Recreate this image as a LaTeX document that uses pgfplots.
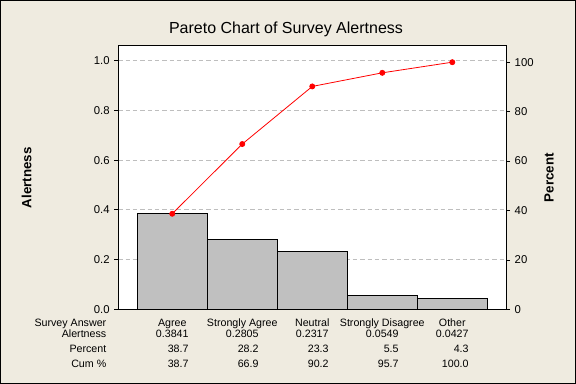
\documentclass[border=0pt]{standalone}
\usepackage{pgfplots}
\pgfplotsset{compat=1.18}
\usepackage{fontspec}
\setmainfont{Liberation Sans}
\definecolor{bgbeige}{RGB}{239,235,224}
\definecolor{bargray}{RGB}{192,192,192}
\definecolor{gridgray}{RGB}{190,190,190}
\newcommand{\tabfont}{\fontsize{8}{11.25}\selectfont}
\newcommand{\cat}[4]{\tabfont\begin{tabular}[t]{@{}c@{}}#1\\[-2.45pt]\begin{tabular}[t]{@{}r@{}}#2\\#3\\#4\end{tabular}\end{tabular}}
\begin{document}
\begin{tikzpicture}[x=1pt,y=1pt]
\fill[bgbeige] (0,0) rectangle (432,288);
\node[anchor=base, inner sep=0pt, font=\fontsize{12}{14}\selectfont] at (214.5,263) {Pareto Chart of Survey Alertness};
\begin{axis}[
  name=main,
  at={(88.7pt,55.9pt)}, anchor=south west,
  width=290.8pt, height=197.6pt, scale only axis,
  xmin=-0.771, xmax=4.767, ymin=0, ymax=1.059,
  axis background/.style={fill=white},
  axis line style={line width=0.75pt},
  /pgf/number format/assume math mode=true,
  ytick={0,0.2,0.4,0.6,0.8,1.0},
  ytick pos=left,
  yticklabel style={/pgf/number format/.cd, fixed, fixed zerofill, precision=1, /tikz/.cd, font=\fontsize{8.5}{10}\selectfont},
  tick align=outside, major tick length=3pt,
  tick style={black, line width=0.75pt},
  ymajorgrids, grid style={gridgray, dash pattern=on 3.3pt off 2.2pt, line width=0.75pt},
  xtick={0,1,2,3,4},
  xtick style={draw=none},
  xticklabels={{\cat{Agree}{0.3841}{38.7}{38.7}},{\cat{Strongly Agree}{0.2805}{28.2}{66.9}},{\cat{Neutral}{0.2317}{23.3}{90.2}},{\cat{Strongly Disagree}{0.0549}{5.5}{95.7}},{\cat{Other}{0.0427}{4.3}{100.0}}},
  xticklabel style={inner sep=0pt, anchor=north, yshift=-1.5pt},
  ylabel={Alertness},
  ylabel style={at={(axis description cs:-0.2363,0.5)}, anchor=center, font=\bfseries\fontsize{10}{12}\selectfont},
]
\addplot[ybar, bar width=1, fill=bargray, draw=black, line width=0.75pt] coordinates {(0,0.3841) (1,0.2805) (2,0.2317) (3,0.0549) (4,0.0427)};
\end{axis}
\node[anchor=north east, inner sep=0pt, xshift=-8.8pt, yshift=-4.5pt] at (main.south west) {\tabfont\begin{tabular}[t]{@{}r@{}}Survey Answer\\[-2.45pt]Alertness\\Percent\\Cum \%\end{tabular}};
\begin{axis}[
  at={(88.7pt,55.9pt)}, anchor=south west,
  width=290.8pt, height=197.6pt, scale only axis,
  xmin=-0.771, xmax=4.767, ymin=0, ymax=106.55,
  axis x line=none, axis y line*=right,
  axis line style={line width=0.75pt, -},
  /pgf/number format/assume math mode=true,
  ytick={0,20,40,60,80,100},
  yticklabel style={font=\fontsize{8.5}{10}\selectfont},
  tick align=outside, major tick length=3pt,
  tick style={black, line width=0.75pt},
  ylabel={Percent},
  ylabel style={at={(axis description cs:1.111,0.5)}, anchor=center, rotate=0, font=\bfseries\fontsize{10}{12}\selectfont},
]
\addplot[red, line width=0.6pt, mark=*, mark size=1.9pt, mark options={fill=red, draw=red, solid}] coordinates {(0,38.7) (1,66.9) (2,90.2) (3,95.7) (4,100.0)};
\end{axis}
\draw[black,line width=0.75pt] (0.375,0.375) rectangle (431.625,287.625);
\pgfresetboundingbox
\useasboundingbox (0,0) rectangle (432,288);
\end{tikzpicture}
\end{document}
